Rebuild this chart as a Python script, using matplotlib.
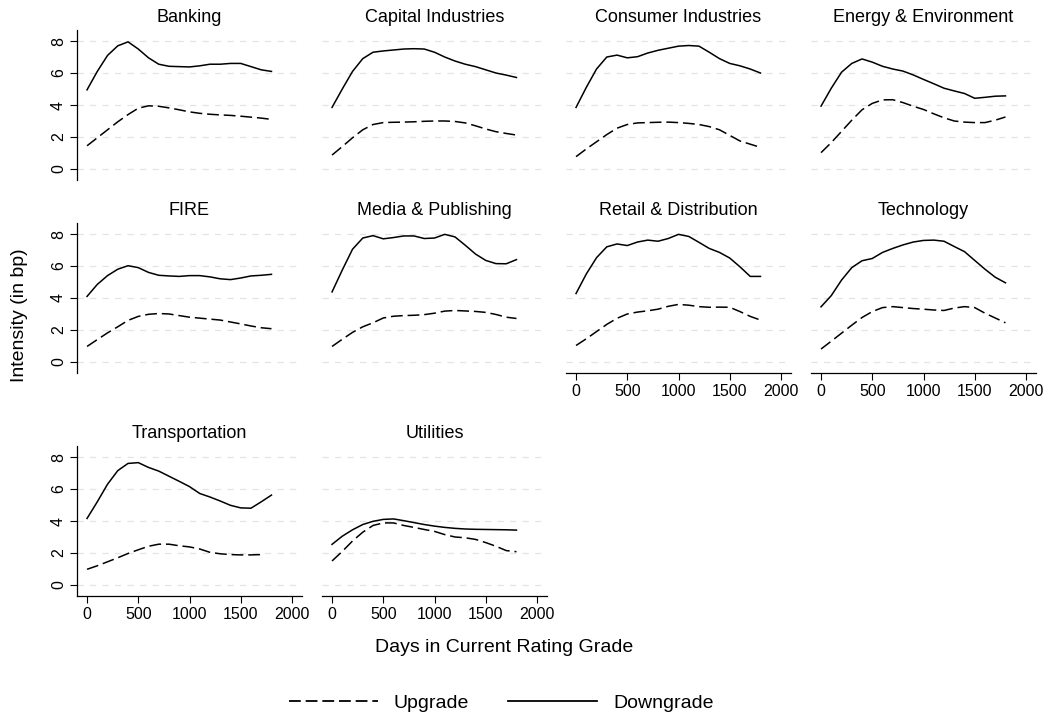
import matplotlib
matplotlib.use("Agg")
import matplotlib.pyplot as plt
from matplotlib.lines import Line2D
import numpy as np

plt.rcParams['font.family'] = ['Liberation Sans', 'DejaVu Sans']
plt.rcParams['lines.scale_dashes'] = False

# days in current rating grade
days = [0, 100, 200, 300, 400, 500, 600, 700, 800, 900,
        1000, 1100, 1200, 1300, 1400, 1500, 1600, 1700, 1800]

sectors = ["Banking", "Capital Industries", "Consumer Industries", "Energy & Environment",
           "FIRE", "Media & Publishing", "Retail & Distribution", "Technology",
           "Transportation", "Utilities"]

# downgrade intensity (solid)
down_banking = [4.95, 6.1, 7.1, 7.7, 7.95, 7.5, 6.95, 6.55, 6.42, 6.4,
                6.38, 6.45, 6.55, 6.55, 6.6, 6.6, 6.4, 6.2, 6.1]
down_capital = [3.85, 5.0, 6.1, 6.9, 7.3, 7.38, 7.44, 7.5, 7.52, 7.5,
                7.3, 7.0, 6.75, 6.55, 6.4, 6.2, 6.0, 5.87, 5.72]
down_consumer = [3.85, 5.1, 6.25, 7.0, 7.12, 6.95, 7.02, 7.25, 7.42, 7.55,
                 7.68, 7.72, 7.68, 7.3, 6.9, 6.6, 6.45, 6.25, 6.0]
down_energy = [3.93, 5.05, 6.05, 6.6, 6.88, 6.68, 6.42, 6.25, 6.12, 5.88,
               5.6, 5.33, 5.05, 4.88, 4.72, 4.42, 4.48, 4.55, 4.57]
down_fire = [4.1, 4.85, 5.4, 5.8, 6.02, 5.9, 5.6, 5.42, 5.38, 5.35,
             5.4, 5.4, 5.32, 5.2, 5.15, 5.25, 5.38, 5.42, 5.48]
down_media = [4.38, 5.75, 7.05, 7.75, 7.9, 7.7, 7.78, 7.88, 7.88, 7.72,
              7.75, 7.98, 7.82, 7.3, 6.75, 6.35, 6.15, 6.14, 6.4]
down_retail = [4.28, 5.5, 6.52, 7.2, 7.38, 7.28, 7.5, 7.62, 7.55, 7.72,
               7.98, 7.85, 7.48, 7.1, 6.85, 6.5, 5.95, 5.35, 5.35]
down_tech = [3.45, 4.15, 5.12, 5.9, 6.33, 6.47, 6.85, 7.1, 7.32, 7.5,
             7.6, 7.62, 7.55, 7.22, 6.9, 6.35, 5.8, 5.3, 4.95]
down_transport = [4.16, 5.2, 6.3, 7.15, 7.6, 7.65, 7.35, 7.12, 6.8, 6.48,
                  6.15, 5.72, 5.5, 5.25, 4.98, 4.82, 4.8, 5.2, 5.62]
down_utilities = [2.54, 3.05, 3.45, 3.78, 3.98, 4.1, 4.13, 4.02, 3.9, 3.78,
                  3.68, 3.6, 3.54, 3.5, 3.48, 3.47, 3.46, 3.45, 3.43]

# upgrade intensity (dashed)
up_banking = [1.45, 1.95, 2.45, 2.95, 3.4, 3.8, 3.95, 3.92, 3.82, 3.7,
              3.57, 3.48, 3.42, 3.38, 3.35, 3.3, 3.24, 3.18, 3.1]
up_capital = [0.87, 1.4, 1.95, 2.45, 2.78, 2.9, 2.92, 2.93, 2.95, 2.98,
              3.0, 3.0, 2.97, 2.88, 2.7, 2.5, 2.33, 2.22, 2.12]
up_consumer = [0.77, 1.25, 1.7, 2.15, 2.55, 2.78, 2.88, 2.9, 2.92, 2.93,
               2.9, 2.85, 2.78, 2.65, 2.45, 2.1, 1.75, 1.55, 1.35]
up_energy = [1.02, 1.65, 2.35, 3.05, 3.7, 4.1, 4.32, 4.33, 4.15, 3.92,
             3.72, 3.45, 3.2, 3.0, 2.93, 2.9, 2.9, 3.05, 3.25]
up_fire = [0.97, 1.4, 1.82, 2.2, 2.6, 2.85, 2.98, 3.03, 3.0, 2.9,
           2.8, 2.74, 2.68, 2.62, 2.5, 2.38, 2.25, 2.14, 2.08]
up_media = [0.97, 1.42, 1.85, 2.2, 2.45, 2.75, 2.86, 2.9, 2.92, 2.96,
            3.05, 3.18, 3.22, 3.19, 3.16, 3.1, 2.97, 2.8, 2.72]
up_retail = [1.03, 1.45, 1.9, 2.35, 2.73, 3.0, 3.12, 3.2, 3.3, 3.48,
             3.6, 3.55, 3.46, 3.42, 3.43, 3.42, 3.15, 2.85, 2.62]
up_tech = [0.81, 1.3, 1.8, 2.3, 2.78, 3.15, 3.4, 3.46, 3.4, 3.34,
           3.3, 3.25, 3.22, 3.37, 3.46, 3.4, 3.05, 2.75, 2.45]
up_transport = [0.98, 1.2, 1.45, 1.7, 1.97, 2.2, 2.42, 2.55, 2.55, 2.45,
                2.38, 2.25, 2.04, 1.95, 1.9, 1.88, 1.88, 1.9, np.nan]
up_utilities = [1.5, 2.1, 2.75, 3.3, 3.72, 3.88, 3.88, 3.72, 3.6, 3.47,
                3.35, 3.15, 3.0, 2.95, 2.85, 2.65, 2.42, 2.15, 2.08]

downs = [down_banking, down_capital, down_consumer, down_energy, down_fire,
         down_media, down_retail, down_tech, down_transport, down_utilities]
ups = [up_banking, up_capital, up_consumer, up_energy, up_fire,
       up_media, up_retail, up_tech, up_transport, up_utilities]

W, H = 1051, 718
fig = plt.figure(figsize=(W / 100, H / 100), dpi=100)

col_left = [77, 322, 566, 811]   # px
row_top = [30, 223, 446]        # px
pw, ph = 225, 150
dash = (8.5, 3.5)

for i, name in enumerate(sectors):
    r, c = divmod(i, 4)
    ax = fig.add_axes([col_left[c] / W, 1 - (row_top[r] + ph) / H, pw / W, ph / H])
    ax.set_xlim(-98, 2098)
    ax.set_ylim(-0.69, 8.69)
    for y in [0, 2, 4, 6, 8]:
        ax.axhline(y, color='#e4e4e4', lw=0.9, dashes=(4.5, 4.5), zorder=0)
    ax.plot(days, ups[i], color='black', lw=1.1, dashes=dash)
    ax.plot(days, downs[i], color='black', lw=1.1)
    ax.set_title(name, fontsize=13, pad=6)

    for s in ['top', 'right']:
        ax.spines[s].set_visible(False)
    ax.spines['left'].set_visible(c == 0)
    bottom_panel = (r == 2) or (r == 1 and c >= 2)
    ax.spines['bottom'].set_visible(bottom_panel)
    for s in ['left', 'bottom']:
        ax.spines[s].set_linewidth(0.9)

    ax.set_yticks([0, 2, 4, 6, 8])
    if c == 0:
        ax.tick_params(axis='y', length=5, width=0.8, labelsize=11.5, pad=3)
        for lab in ax.get_yticklabels():
            lab.set_rotation(90)
            lab.set_va('center')
    else:
        ax.tick_params(axis='y', left=False, labelleft=False)

    ax.set_xticks([0, 500, 1000, 1500, 2000])
    if bottom_panel:
        ax.tick_params(axis='x', length=5, width=0.8, labelsize=11.5, pad=3)
    else:
        ax.tick_params(axis='x', bottom=False, labelbottom=False)

fig.text(20 / W, 1 - 315 / H, 'Intensity (in bp)', rotation=90, fontsize=14,
         ha='center', va='center')
fig.text(504 / W, 1 - 648 / H, 'Days in Current Rating Grade', fontsize=14,
         ha='center', va='center')

handles = [Line2D([], [], color='black', lw=1.3, dashes=dash),
           Line2D([], [], color='black', lw=1.3)]
fig.legend(handles, ['Upgrade', 'Downgrade'], loc='center',
           bbox_to_anchor=(501 / W, 1 - 703 / H), ncol=2, frameon=False,
           fontsize=14, handlelength=4.6, handletextpad=0.8, columnspacing=2.0)

fig.savefig('out.png', dpi=100)
